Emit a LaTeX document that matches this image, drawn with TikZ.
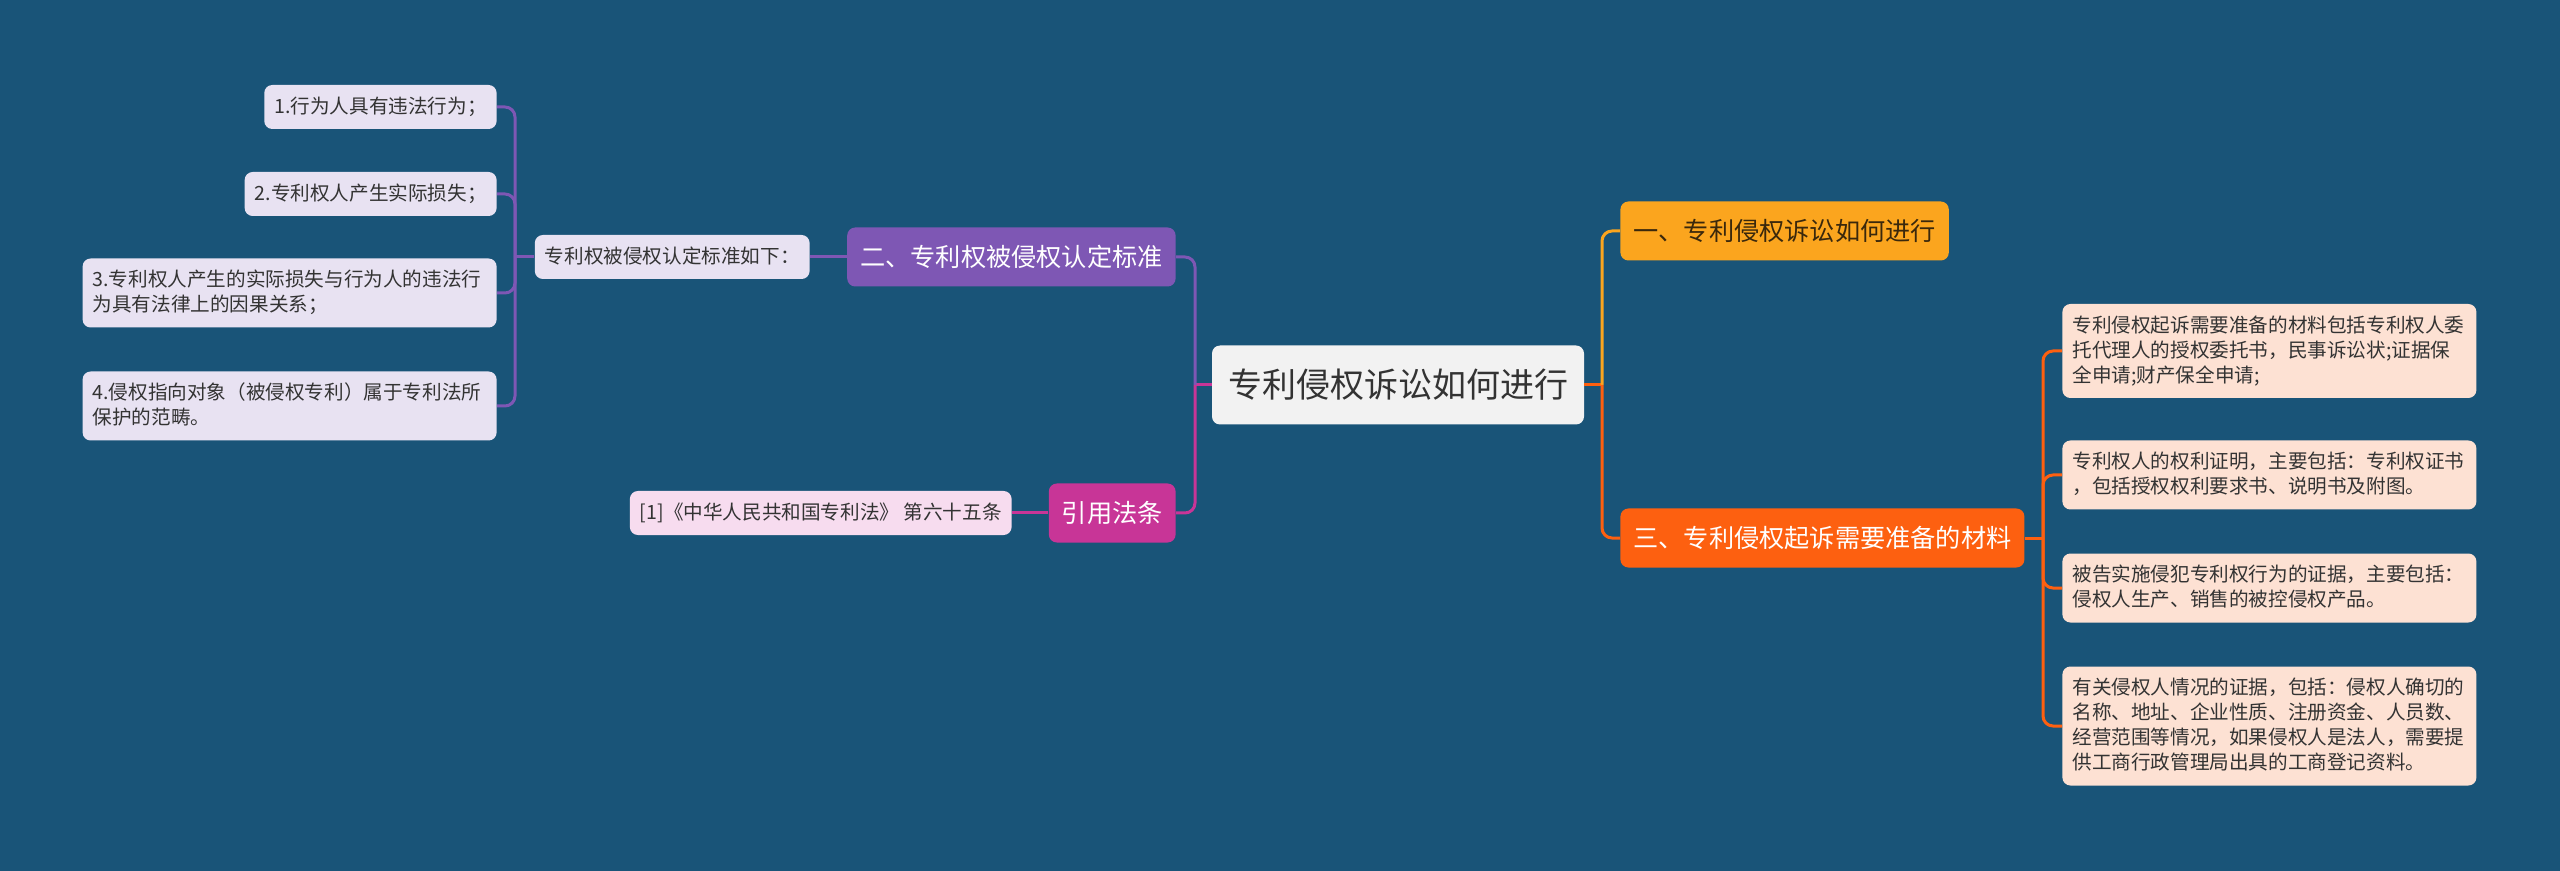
\documentclass[tikz,border=0pt]{standalone}
\usepackage{fontspec}
\setmainfont{Noto Sans CJK SC}
\usetikzlibrary{positioning}

\definecolor{bgblue}{RGB}{25,84,120}
\definecolor{rootfill}{RGB}{242,242,242}
\definecolor{darktext}{RGB}{51,51,51}
\definecolor{browntext}{RGB}{58,40,12}
\definecolor{mmyellow}{RGB}{251,165,30}
\definecolor{mmorange}{RGB}{253,96,16}
\definecolor{mmpurple}{RGB}{126,87,180}
\definecolor{mmmagenta}{RGB}{200,53,151}
\definecolor{lavender}{RGB}{232,226,242}
\definecolor{pinkleaf}{RGB}{247,220,239}
\definecolor{peach}{RGB}{253,225,211}

\newcommand\leafstrut{\rule[-3.1pt]{0pt}{12.5pt}}

\tikzset{
  root/.style={rounded corners=4pt, fill=rootfill, text=darktext, minimum width=186pt,
    minimum height=39.5pt, inner xsep=4pt, font=\fontsize{17}{20}\selectfont},
  topic/.style={rounded corners=4pt, fill=#1, text=white, minimum height=29.5pt,
    inner xsep=6.5pt, font=\fontsize{12.6}{15}\selectfont},
  leaf/.style={rounded corners=4pt, fill=#1, text=darktext, inner xsep=5pt, inner ysep=4.75pt,
    font=\fontsize{9.8}{12.5}\selectfont, execute at begin node=\leafstrut,
    execute at end node=\leafstrut},
  wideleaf/.style={leaf=#1, text width=197pt, align=left},
  link/.style={draw=#1, line width=1.5pt, rounded corners=5pt}
}

\begin{document}
\begin{tikzpicture}[x=0.5pt,y=-0.5pt]

  \fill[bgblue] (0,0) rectangle (2560,871);
  \useasboundingbox (0,0) rectangle (2560,871);

  % centre topic
  \node[root] (root) at (1398,385) {专利侵权诉讼如何进行};

  % main topics
  \node[topic=mmyellow, text=browntext, anchor=west] (one) at (1620,231) {一、专利侵权诉讼如何进行};
  \node[topic=mmorange, anchor=west] (three) at (1620,538) {三、专利侵权起诉需要准备的材料};
  \node[topic=mmpurple, anchor=east] (two) at (1176,257) {二、专利权被侵权认定标准};
  \node[topic=mmmagenta, anchor=east] (cite) at (1176,513) {引用法条};

  % left side leaves
  \node[leaf=lavender, anchor=east] (crit) at (810,257) {专利权被侵权认定标准如下：};
  \node[leaf=lavender, anchor=east] (l1) at (497,107) {1.行为人具有违法行为；};
  \node[leaf=lavender, anchor=east] (l2) at (497,194) {2.专利权人产生实际损失；};
  \node[wideleaf=lavender, anchor=east] (l3) at (497,293) {3.专利权人产生的实际损失与行为人的违法行\\为具有法律上的因果关系；};
  \node[wideleaf=lavender, anchor=east] (l4) at (497,406) {4.侵权指向对象（被侵权专利）属于专利法所\\保护的范畴。};
  \node[leaf=pinkleaf, anchor=east] (ref) at (1012,513) {[1]《中华人民共和国专利法》 第六十五条};

  % right side leaves
  \node[wideleaf=peach, anchor=west] (r1) at (2062,351) {专利侵权起诉需要准备的材料包括专利权人委\\托代理人的授权委托书，民事诉讼状;证据保\\全申请;财产保全申请;};
  \node[wideleaf=peach, anchor=west] (r2) at (2062,475) {专利权人的权利证明，主要包括：专利权证书\\，包括授权权利要求书、说明书及附图。};
  \node[wideleaf=peach, anchor=west] (r3) at (2062,588) {被告实施侵犯专利权行为的证据，主要包括：\\侵权人生产、销售的被控侵权产品。};
  \node[wideleaf=peach, anchor=west] (r4) at (2062,726) {有关侵权人情况的证据，包括：侵权人确切的\\名称、地址、企业性质、注册资金、人员数、\\经营范围等情况，如果侵权人是法人，需要提\\供工商行政管理局出具的工商登记资料。};

  % junctions
  \coordinate (jl) at (1195,385);
  \coordinate (jr) at (1602,385);
  \coordinate (jc) at (515,257);
  \coordinate (j3) at (2043,538);

  % connectors on the left
  \draw[link=mmmagenta] (root.west) -- (jl);
  \draw[link=mmpurple] (jl) |- (two.east);
  \draw[link=mmmagenta] (jl) |- (cite.east);
  \draw[link=mmmagenta] (cite.west) -- (ref.east);
  \draw[link=mmpurple] (two.west) -- (crit.east);
  \draw[link=mmpurple] (crit.west) -- (jc);
  \foreach \n in {l1,l2,l3,l4} {
    \draw[link=mmpurple] (jc) |- (\n.east);
  }

  % connectors on the right
  \draw[link=mmorange] (root.east) -- (jr);
  \draw[link=mmyellow] (jr) |- (one.west);
  \draw[link=mmorange] (jr) |- (three.west);
  \draw[link=mmorange] (three.east) -- (j3);
  \foreach \n in {r1,r2,r3,r4} {
    \draw[link=mmorange] (j3) |- (\n.west);
  }

\end{tikzpicture}
\end{document}
